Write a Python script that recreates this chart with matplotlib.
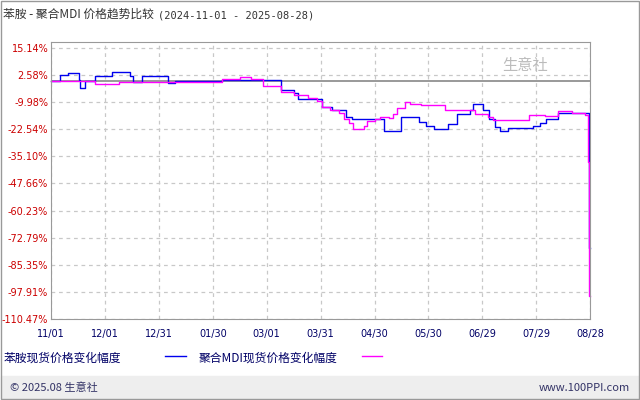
import matplotlib.pyplot as plt

plt.rcParams['font.family'] = ['Noto Sans CJK SC', 'DejaVu Sans']

# day offsets from 2024-11-01, value in %
aniline_days = [0, 5, 9.6, 15.8, 16, 19, 24.5, 34, 44, 45.7, 50.5, 65, 69, 75.5, 95, 128, 135, 137.5,
                150.6, 156.2, 164.2, 167.3, 185, 194.8, 205, 208.7, 213.3, 221, 225.7, 233.2, 234.6,
                240.2, 243.9, 247, 249.9, 254.5, 268.4, 272.1, 275.4, 282.3, 299.2, 300]
aniline_vals = [0, 2.6, 3.6, 0.5, -3.2, 0, 2.3, 4.0, 2.3, -0.5, 2.3, -1.0, 0, 0, 0.5, -4.2, -5.7, -8.4,
                -12.0, -13.5, -16.9, -17.8, -23.3, -16.9, -19.2, -20.9, -22.3, -20.0, -15.3, -13.8, -10.8,
                -13.8, -17.7, -21.5, -23.3, -22.0, -21.1, -19.7, -17.8, -15.0, -77.5, -77.5]

mdi_days = [0, 24.5, 38, 95, 105, 111, 118, 128, 135, 143, 148, 150.6, 155, 160, 163, 166, 168, 174,
            176, 180, 183, 188, 190, 192.5, 197, 200, 206, 219, 235, 236, 243, 246, 255, 266, 275, 282,
            290, 297, 299.0, 299.6, 300]
mdi_vals = [0, -1.4, -0.5, 0.8, 1.7, 0.8, -2.3, -5.3, -6.5, -8.0, -9.6, -12.2, -13.5, -15.0, -17.8, -19.8, -22.3, -21.2,
            -18.9, -17.8, -16.9, -17.5, -15.5, -12.7, -10.1, -10.8, -11.5, -13.5, -13.5, -15.5, -17.0, -18.1, -18.1, -16.0, -16.6, -14.3,
            -15.0, -15.8, -37.5, -100.0, -100.0]

yticks = [15.14, 2.58, -9.98, -22.54, -35.10, -47.66, -60.23, -72.79, -85.35, -97.91, -110.47]
xtick_days = [0, 30, 60, 90, 120, 150, 180, 210, 240, 270, 300]
xtick_labels = ['11/01', '12/01', '12/31', '01/30', '03/01', '03/31', '04/30', '05/30', '06/29', '07/29', '08/28']

fig = plt.figure(figsize=(6.4, 4.0), dpi=100)
fig.patches.append(plt.Rectangle((0.002, 0.002), 0.996, 0.996, transform=fig.transFigure,
                                 fill=False, edgecolor='#999999', lw=1))
fig.patches.append(plt.Rectangle((0.002, 0.002), 0.996, 0.058, transform=fig.transFigure,
                                 color='#eeeeee', zorder=0))
ax = fig.add_axes([0.0797, 0.2025, 0.8425, 0.6925])
ax.set_xlim(0, 300)
ax.set_ylim(-110.47, 17.9)
ax.set_yticks(yticks)
ax.set_yticklabels([f'{v:.2f}%' for v in yticks], color='#cc0000', fontsize=7, family='DejaVu Sans')
ax.set_xticks(xtick_days)
ax.set_xticklabels(xtick_labels, color='#000066', fontsize=7, family='DejaVu Sans')
ax.tick_params(axis='y', length=0, pad=2)
ax.tick_params(axis='x', length=0, pad=7)
ax.grid(True, ls=(0, (3, 3)), color='#c8c8c8', lw=0.9)
ax.axhline(0, color='#888888', lw=1.2, zorder=1)
for s in ax.spines.values():
    s.set_color('#999999')

ax.plot(aniline_days, aniline_vals, drawstyle='steps-post', color='#0000ee', lw=1, clip_on=False)
ax.plot(mdi_days, mdi_vals, drawstyle='steps-post', color='#ff00ff', lw=1, clip_on=False)

ax.text(0.88, 0.90, '生意社', transform=ax.transAxes, fontsize=11, color='#bbbbbb', ha='center')

fig.text(0.005, 0.955, '苯胺 - 聚合MDI 价格趋势比较', fontsize=8.5, color='#333333')
fig.text(0.247, 0.955, '(2024-11-01 - 2025-08-28)', fontsize=7.5, color='#333333', family='DejaVu Sans Mono')

fig.text(0.005, 0.097, '苯胺现货价格变化幅度', fontsize=8.5, color='#000066')
fig.add_artist(plt.Line2D([0.258, 0.29], [0.11, 0.11], color='#0000ee', lw=1))
fig.text(0.31, 0.097, '聚合MDI现货价格变化幅度', fontsize=8.5, color='#000066')
fig.add_artist(plt.Line2D([0.565, 0.597], [0.11, 0.11], color='#ff00ff', lw=1))

fig.text(0.015, 0.022, '© 2025.08 生意社', fontsize=8, color='#333366')
fig.text(0.985, 0.022, 'www.100PPI.com', fontsize=8, color='#333366', ha='right')

fig.savefig('out.png', dpi=100)
